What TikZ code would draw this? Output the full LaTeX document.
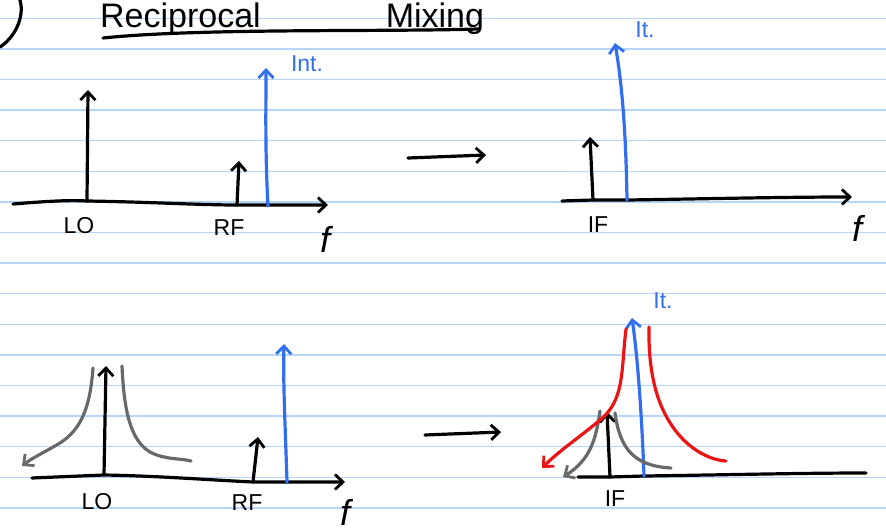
\documentclass[tikz,border=0pt]{standalone}
\usepackage{fontspec}
\setmainfont{Liberation Sans}
\usetikzlibrary{arrows.meta}
\definecolor{rulecol}{RGB}{180,214,250}
\definecolor{inkblue}{RGB}{50,110,240}
\definecolor{inkred}{RGB}{235,20,20}
\definecolor{inkgray}{RGB}{105,105,105}
\tikzset{
  ink/.style={line width=3.2pt, line cap=round, line join=round},
  tipped/.style={-{Straight Barb[length=8pt,width=15pt,line width=2.8pt]}},
  lbl/.style={font=\fontsize{23}{25}\selectfont, inner sep=0pt},
  flbl/.style={font=\fontsize{36}{38}\selectfont\itshape, inner sep=0pt},
  bluelbl/.style={lbl, text=inkblue},
}
\begin{document}
\begin{tikzpicture}[x=1pt,y=-1pt]
\useasboundingbox (0,0) rectangle (886,532);
\clip (0,0) rectangle (886,532);
% ruled paper
\foreach \k in {0,...,16}{
  \draw[rulecol, line width=1.4pt] (0,{18.3+30.6*\k}) -- (886,{18.3+30.6*\k});
}
% title
\node[anchor=base west, inner sep=0pt, font=\fontsize{34}{36}\selectfont] (title) at (100,28) {Reciprocal\hspace{125pt}Mixing};
\coordinate (ul1) at (103,38);
\coordinate (ul2) at (478,29);
\draw[ink] (ul1) .. controls (200,28) and (380,32) .. (ul2);
\coordinate (c1) at (0,47);
\coordinate (c2) at (20,0);
\draw[ink] (c1) .. controls (14,38) and (25,18) .. (c2);

% ===== top-left panel =====
\coordinate (A1) at (13,204);
\coordinate (A1lo) at (87,201);
\coordinate (A1rf) at (237,205);
\coordinate (A1b) at (268,206);
\coordinate (A1e) at (328,205);
\draw[ink,tipped] (A1) .. controls (50,201) and (70,200) .. (A1lo) .. controls (150,202) and (200,205) .. (A1rf) -- (A1e);
\coordinate (LO1t) at (88,90);
\coordinate (RF1t) at (239,161);
\coordinate (B1t) at (266,68);
\draw[ink,tipped] (A1lo) -- (LO1t);
\draw[ink,tipped] (A1rf) -- (RF1t);
\draw[ink,tipped,inkblue] (A1b) .. controls (265,150) and (266,110) .. (B1t);
\node[bluelbl] (int1) at (307,64) {Int.};
\node[lbl] (lo1) at (79,226) {LO};
\node[lbl] (rf1) at (229,228) {RF};
\node[flbl] (f1) at (325,239) {f};

% ===== top-right panel =====
\coordinate (A2) at (562,201);
\coordinate (A2if) at (593,200);
\coordinate (A2b) at (627,200);
\coordinate (A2e) at (852,197);
\draw[ink,tipped] (A2) -- (A2if) -- (A2b) .. controls (700,199) and (780,197) .. (A2e);
\coordinate (IF2t) at (590,137);
\coordinate (B2t) at (615,43);
\draw[ink,tipped] (A2if) -- (IF2t);
\draw[ink,tipped,inkblue] (A2b) .. controls (626,140) and (623,90) .. (B2t);
\node[bluelbl] (int2) at (645,30) {It.};
\node[lbl] (if2) at (598,225) {IF};
\node[flbl] (f2) at (857,228) {f};

% transition arrows
\coordinate (T1s) at (408,158);
\coordinate (T1e) at (486,155);
\draw[ink,tipped] (T1s) -- (T1e);
\coordinate (T2s) at (425,435);
\coordinate (T2e) at (501,432);
\draw[ink,tipped] (T2s) -- (T2e);

% ===== bottom-left panel =====
\coordinate (A3) at (32,478);
\coordinate (A3lo) at (104,475);
\coordinate (A3rf) at (253,482);
\coordinate (A3b) at (287,482);
\coordinate (A3e) at (345,482);
\draw[ink,tipped] (A3) -- (A3lo) .. controls (160,476) and (210,480) .. (A3rf) -- (A3e);
\coordinate (LO3t) at (106,366);
\coordinate (RF3t) at (258,437);
\coordinate (B3t) at (284,344);
\draw[ink,tipped] (A3lo) -- (LO3t);
\draw[ink,tipped] (A3rf) -- (RF3t);
\draw[ink,tipped,inkblue] (A3b) .. controls (285,420) and (283,380) .. (B3t);
% gray phase-noise skirts
\coordinate (G3la) at (93,368);
\coordinate (G3lb) at (22,466);
\coordinate (G3ra) at (122,366);
\coordinate (G3rb) at (191,461);
\draw[ink,inkgray,tipped] (G3la) .. controls (90,410) and (80,430) .. (60,443) .. controls (45,452) and (32,458) .. (G3lb);
\draw[ink,inkgray] (G3ra) .. controls (124,410) and (130,440) .. (150,452) .. controls (165,460) and (180,458) .. (G3rb);
\node[lbl] (lo3) at (97,502) {LO};
\node[lbl] (rf3) at (247,503) {RF};
\node[flbl] (f3) at (345,512) {f};

% ===== bottom-right panel =====
\coordinate (A4) at (578,477);
\coordinate (A4if) at (610,477);
\coordinate (A4b) at (644,476);
\coordinate (A4e) at (866,473);
\draw[ink] (A4) -- (A4if) -- (A4b) .. controls (720,475) and (800,473) .. (A4e);
\coordinate (IF4t) at (607,412);
\coordinate (B4t) at (632,318);
\draw[ink,tipped] (A4if) -- (IF4t);
\draw[ink,tipped,inkblue] (A4b) .. controls (642,420) and (638,360) .. (B4t);
% gray skirts
\coordinate (G4la) at (600,411);
\coordinate (G4lb) at (563,477);
\coordinate (G4ra) at (615,413);
\coordinate (G4rb) at (671,468);
\draw[ink,inkgray,tipped] (G4la) .. controls (596,440) and (590,460) .. (G4lb);
\draw[ink,inkgray] (G4ra) .. controls (620,450) and (635,466) .. (G4rb);
% red skirts
\coordinate (R4la) at (626,329);
\coordinate (R4lb) at (542,468);
\coordinate (R4ra) at (649,327);
\coordinate (R4rb) at (726,461);
\draw[ink,inkred,tipped] (R4la) .. controls (621,370) and (625,400) .. (600,420) .. controls (580,437) and (560,450) .. (R4lb);
\draw[ink,inkred] (R4ra) .. controls (648,380) and (660,410) .. (675,430) .. controls (690,450) and (710,460) .. (R4rb);
\node[bluelbl] (int4) at (663,301) {It.};
\node[lbl] (if4) at (615,499) {IF};
\end{tikzpicture}
\end{document}
